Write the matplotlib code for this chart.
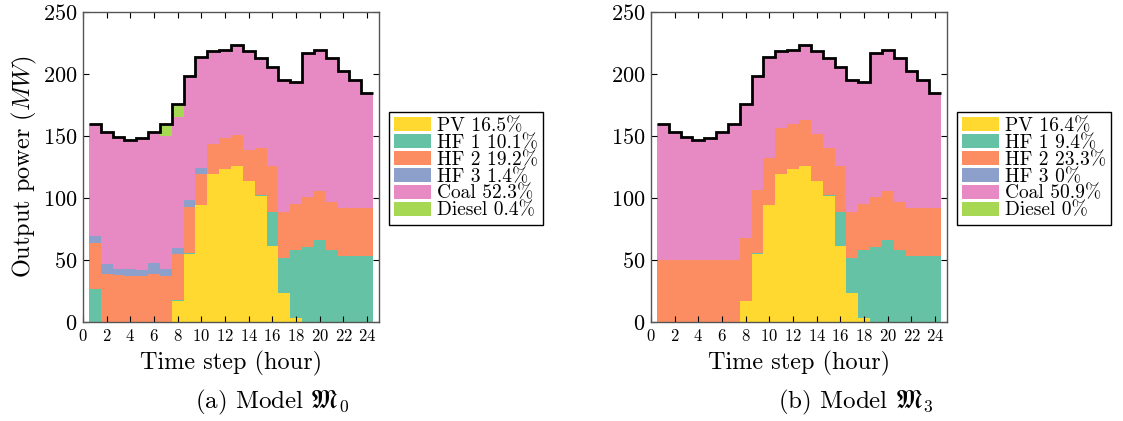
import numpy as np
import matplotlib
matplotlib.use("Agg")
import matplotlib.pyplot as plt

plt.rcParams['font.family'] = ['cmr10', 'DejaVu Serif']
plt.rcParams['mathtext.fontset'] = 'cm'
plt.rcParams['axes.formatter.use_mathtext'] = True

hours = list(range(1, 25))

# total load (black step line), same in both models
load = [160, 153, 149.5, 147, 148, 153.5, 160, 175.5, 198.5, 213.5, 218.5, 219.5,
        223, 218.5, 213, 205.5, 195.5, 193.5, 217, 219.5, 213, 202.5, 195.5, 184.5]

pv = [0, 0, 0, 0, 0, 0, 0, 17, 55, 94.5, 119, 123,
      126, 114, 102, 61.5, 23.5, 3.5, 0, 0, 0, 0, 0, 0]

# model M0
hf1_m0 = [27, 0, 0, 0, 0, 0, 0, 0.5, 0.5, 0, 0, 0,
          0, 0, 0.5, 27, 27.8, 54.4, 60.6, 66.3, 58.2, 53.3, 53.3, 53.3]
hf2_m0 = [37, 38.5, 38, 37, 37, 38.5, 37, 37, 37.5, 24.7, 24.8, 25.6,
          25, 24.7, 37.7, 37.6, 37.2, 37.2, 39.9, 39.6, 38.2, 38.3, 38.3, 38.3]
hf3_m0 = [5.4, 8, 4.6, 5.4, 4.6, 9, 5.4, 4.8, 5.3, 4.9, 0, 0,
          0, 0, 0, 0, 0, 0, 0, 0, 0, 0, 0, 0]
coal_m0 = [90.6, 106.5, 106.9, 104.6, 106.4, 106, 107.6, 106.3, 100.2, 89.3, 74.7, 70.9,
           72, 79.8, 72.8, 79.4, 107, 98.4, 116.5, 113.6, 116.6, 110.9, 103.9, 92.9]
diesel_m0 = [0, 0, 0, 0, 0, 0, 10, 9.7, 0, 0, 0, 0,
             0, 0, 0, 0, 0, 0, 0, 0, 0, 0, 0, 0]

# model M3
hf1_m3 = [0, 0, 0, 0, 0, 0, 0, 0, 0.5, 0, 0, 0,
          0, 0, 0.5, 27, 27.8, 54.4, 60.6, 66.3, 58.2, 53.3, 53.3, 53.3]
hf2_m3 = [50, 50, 50, 50, 50, 50, 50, 50.6, 50.9, 37.7, 37.4, 36.8,
          37.3, 37.7, 38.1, 37.6, 37.2, 37.2, 39.9, 39.6, 38.2, 38.3, 38.3, 38.3]
hf3_m3 = [0] * 24
coal_m3 = [110, 103, 99.5, 97, 98, 103.5, 110, 107.9, 92.1, 81.2, 62.3, 59.7,
           59.7, 66.8, 72.6, 79.4, 107, 98.4, 116.5, 113.6, 116.6, 110.9, 103.9, 92.9]
diesel_m3 = [0] * 24

labels_m0 = ['PV 16.5%', 'HF 1 10.1%', 'HF 2 19.2%', 'HF 3 1.4%', 'Coal 52.3%', 'Diesel 0.4%']
labels_m3 = ['PV 16.4%', 'HF 1 9.4%', 'HF 2 23.3%', 'HF 3 0%', 'Coal 50.9%', 'Diesel 0%']
colors = ['#ffd92f', '#66c2a5', '#fc8d62', '#8da0cb', '#e78ac3', '#a6d854']

captions = [r'(a) Model $\mathfrak{M}_0$', r'(b) Model $\mathfrak{M}_3$']


def draw(ax, series, labels):
    bottom = np.zeros(len(hours))
    for vals, lab, c in zip(series, labels, colors):
        ax.bar(hours, vals, width=1.0, bottom=bottom, color=c, label=lab, linewidth=0)
        bottom += np.array(vals)
    edges = np.append(np.array(hours) - 0.5, hours[-1] + 0.5)
    ax.stairs(load, edges, baseline=None, color='black', linewidth=2)
    ax.set_xlim(0, 25)
    ax.set_ylim(0, 250)
    ax.set_xticks(range(0, 25, 2))
    ax.set_yticks(range(0, 251, 50))
    ax.tick_params(direction='in', top=True, right=True, length=4)
    ax.tick_params(axis='x', labelsize=12, pad=4)
    ax.tick_params(axis='y', labelsize=16, pad=4)
    ax.set_xlabel('Time step (hour)', fontsize=17.5, labelpad=5)
    for sp in ax.spines.values():
        sp.set_color('#555555')
        sp.set_linewidth(1.0)
    ax.legend(loc='upper left', bbox_to_anchor=(1.034, 0.677), borderaxespad=0,
              fontsize=14, fancybox=False, edgecolor='black', framealpha=1,
              handlelength=1.9, handleheight=0.75, labelspacing=-0.05,
              handletextpad=0.3, borderpad=0.25)


fig = plt.figure(figsize=(11.23, 4.21), dpi=100)
ax1 = fig.add_axes([83 / 1123, 1 - 322 / 421, 296 / 1123, 310 / 421])
ax2 = fig.add_axes([651 / 1123, 1 - 322 / 421, 296 / 1123, 310 / 421])

draw(ax1, [pv, hf1_m0, hf2_m0, hf3_m0, coal_m0, diesel_m0], labels_m0)
draw(ax2, [pv, hf1_m3, hf2_m3, hf3_m3, coal_m3, diesel_m3], labels_m3)

ax1.set_ylabel('Output power ($MW$)', fontsize=17.5, labelpad=3)

fig.text(272 / 1123, 1 - 402 / 421, captions[0], ha='center', va='center', fontsize=18)
fig.text(856 / 1123, 1 - 402 / 421, captions[1], ha='center', va='center', fontsize=18)

fig.savefig('out.png', dpi=100)
